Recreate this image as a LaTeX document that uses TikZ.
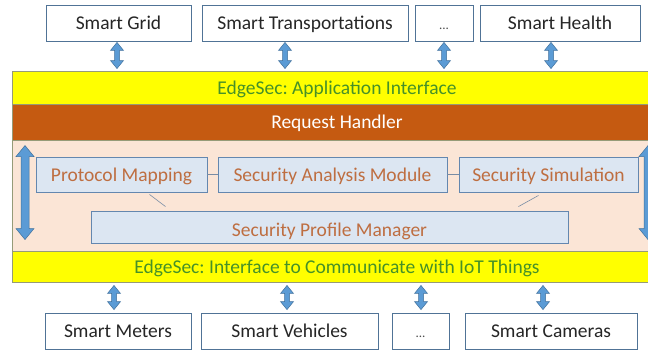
\documentclass[tikz,border=0pt]{standalone}
\usepackage{fontspec}
\setmainfont{Carlito}
\usetikzlibrary{calc}
\frenchspacing

\definecolor{bandyellow}{RGB}{255,255,0}
\definecolor{bandedge}{RGB}{150,155,120}
\definecolor{handler}{RGB}{197,90,17}
\definecolor{core}{RGB}{251,229,214}
\definecolor{modfill}{RGB}{220,230,242}
\definecolor{modedge}{RGB}{100,135,175}
\definecolor{modtext}{RGB}{190,110,65}
\definecolor{headtext}{RGB}{70,145,40}
\definecolor{arrowfill}{RGB}{91,155,213}
\definecolor{arrowedge}{RGB}{65,113,156}
\definecolor{boxedge}{RGB}{80,115,150}
\definecolor{linkline}{RGB}{120,140,165}

% vertical two-headed block arrow: top point, bottom point,
% shaft half width, head half width, head length
\newcommand\blockarrow[5]{%
  \filldraw[blockarrow] let \p1=#1, \p2=#2 in
    (\x1,\y1) -- ({\x1+#4},{\y1-#5}) -- ({\x1+#3},{\y1-#5})
    -- ({\x1+#3},{\y2+#5}) -- ({\x1+#4},{\y2+#5}) -- (\x1,\y2)
    -- ({\x1-#4},{\y2+#5}) -- ({\x1-#3},{\y2+#5})
    -- ({\x1-#3},{\y1-#5}) -- ({\x1-#4},{\y1-#5}) -- cycle;}
% small ellipsis set on the baseline
\newcommand\smalldots{{\fontsize{13}{15}\selectfont\color{black!70}...}}

\begin{document}
\begin{tikzpicture}[x=1pt,y=-1pt,
  font=\fontsize{19.5}{22}\selectfont,
  every node/.style={text height=15pt, text depth=2pt},
  appbox/.style={draw=boxedge, fill=white, line width=0.8pt, inner sep=0pt,
    minimum height=36pt, text=black!85},
  band/.style={draw=bandedge, fill=bandyellow, line width=0.9pt, inner sep=0pt,
    minimum width=650pt, text=headtext},
  handlerband/.style={draw=bandedge, fill=handler, line width=0.9pt, inner sep=0pt,
    minimum width=650pt, text=white},
  coreband/.style={draw=bandedge, fill=core, line width=0.9pt, inner sep=0pt,
    minimum width=650pt},
  modbox/.style={draw=modedge, fill=modfill, line width=0.9pt, inner sep=0pt,
    minimum height=35pt, text=modtext},
  blockarrow/.style={fill=arrowfill, draw=arrowedge, line width=0.5pt},
  link/.style={draw=linkline, line width=0.6pt}]

\useasboundingbox (0,0) rectangle (648,351);
\fill[white] (0,0) rectangle (648,351);

% applications
\node[appbox, minimum width=145pt] (sg) at (118.5,23) {Smart Grid};
\node[appbox, minimum width=206pt] (st) at (305,23) {Smart Transportations};
\node[appbox, minimum width=58pt]  (d1) at (444,23) {\smalldots};
\node[appbox, minimum width=160pt] (sh) at (560,23) {Smart Health};

% EdgeSec layers
\node[band, minimum height=33pt] (app) at (337,87.5) {EdgeSec: Application Interface};
\node[handlerband, minimum height=36pt] (req) at (337,122) {Request Handler};
\node[coreband, minimum height=111pt] (core) at (337,195.5) {};
\node[band, minimum height=31pt] (iot) at (337,266.5)
  {EdgeSec: Interface to Communicate with IoT Things};

% security modules
\node[modbox, minimum width=171pt] (pm)  at (121.5,174.5) {Protocol Mapping};
\node[modbox, minimum width=229pt] (sam) at (332.5,174.5) {Security Analysis Module};
\node[modbox, minimum width=179pt] (ss)  at (548.5,174.5) {Security Simulation};
\node[modbox, minimum width=477pt, minimum height=32pt] (spm) at (329.5,227)
  {\raisebox{-3pt}{Security Profile Manager}};

\draw[link] (pm.east) -- (sam.west);
\draw[link] (sam.east) -- (ss.west);
\draw[link] ($(pm.south)+(28,2)$) -- ($(spm.north)+(-164,-4)$);
\draw[link] ($(ss.south)+(-10,3)$) -- ($(spm.north)+(189,-4)$);

% IoT things
\node[appbox, minimum width=146pt] (sm) at (118,331) {Smart Meters};
\node[appbox, minimum width=177pt] (sv) at (289.5,331) {Smart Vehicles};
\node[appbox, minimum width=57pt]  (d2) at (420.5,331) {\smalldots};
\node[appbox, minimum width=172pt] (sc) at (551,331) {Smart Cameras};

% application <-> interface arrows
\blockarrow{($(117,0 |- sg.south)+(0,1)$)}{($(117,0 |- app.north)+(0,-2)$)}{2.5pt}{6.5pt}{8pt}
\blockarrow{($(285,0 |- st.south)+(0,1)$)}{($(285,0 |- app.north)+(0,-2)$)}{2.5pt}{6.5pt}{8pt}
\blockarrow{($(444,0 |- d1.south)+(0,1)$)}{($(444,0 |- app.north)+(0,-2)$)}{2.5pt}{6.5pt}{8pt}
\blockarrow{($(551,0 |- sh.south)+(0,1)$)}{($(551,0 |- app.north)+(0,-2)$)}{2.5pt}{6.5pt}{8pt}

% interface <-> things arrows
\blockarrow{($(114,0 |- iot.south)+(0,3)$)}{($(114,0 |- sm.north)+(0,-3)$)}{2.5pt}{6.5pt}{8pt}
\blockarrow{($(287,0 |- iot.south)+(0,3)$)}{($(287,0 |- sv.north)+(0,-3)$)}{2.5pt}{6.5pt}{8pt}
\blockarrow{($(421,0 |- iot.south)+(0,3)$)}{($(421,0 |- d2.north)+(0,-3)$)}{2.5pt}{6.5pt}{8pt}
\blockarrow{($(543,0 |- iot.south)+(0,3)$)}{($(543,0 |- sc.north)+(0,-3)$)}{2.5pt}{6.5pt}{8pt}

% arrows spanning the core layer
\blockarrow{($(25,0 |- core.north)+(0,6)$)}{($(25,0 |- iot.north)+(0,-11)$)}{4pt}{9pt}{11pt}
\blockarrow{($(648,0 |- core.north)+(0,6)$)}{($(648,0 |- iot.north)+(0,-11)$)}{4pt}{9pt}{11pt}
\end{tikzpicture}
\end{document}
